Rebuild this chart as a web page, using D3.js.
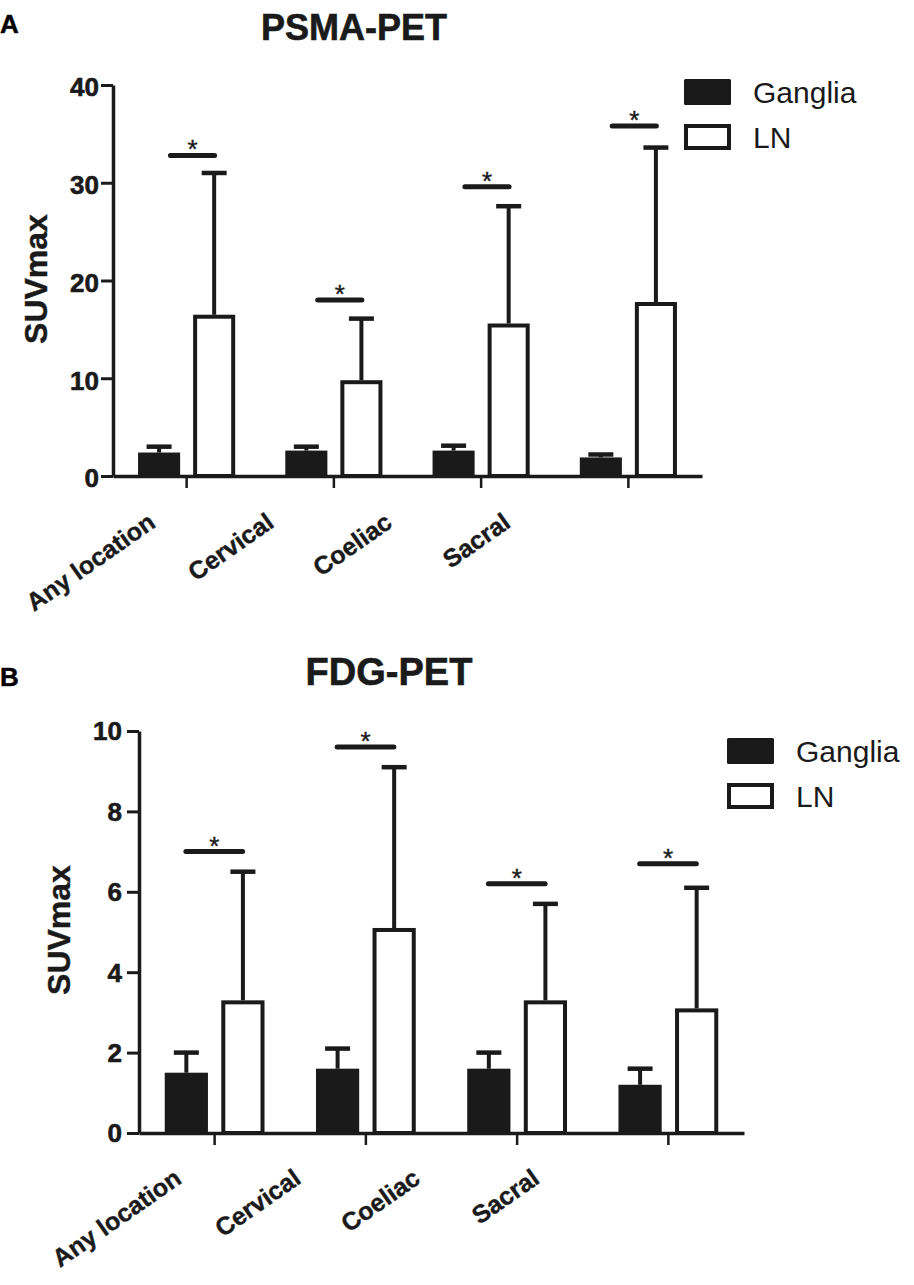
<!DOCTYPE html>
<html>
<head>
<meta charset="utf-8">
<script src="https://cdn.jsdelivr.net/npm/d3@7/dist/d3.min.js"></script>
<style>
  html, body { margin: 0; padding: 0; background: #fff; }
  svg { display: block; font-family: "Liberation Sans", Arial, Helvetica, sans-serif; }
</style>
</head>
<body>
<svg id="chart" width="914" height="1285"></svg>
<script>
// ---------- DATA ----------
const categories = ["Any location", "Cervical", "Coeliac", "Sacral"];
const seriesNames = ["Ganglia", "LN"];

// PSMA-PET (panel A)
const psmaGangliaMean = [2.4, 2.6, 2.6, 1.9];
const psmaGangliaErr  = [3.0, 3.0, 3.1, 2.2];
const psmaLNMean      = [16.5, 9.8, 15.6, 17.8];
const psmaLNErr       = [31.0, 16.1, 27.6, 33.6];
const psmaSig         = [32.8, 18.0, 29.6, 35.8];
const psmaTicks       = [0, 10, 20, 30, 40];

// FDG-PET (panel B)
const fdgGangliaMean = [1.5, 1.6, 1.6, 1.2];
const fdgGangliaErr  = [2.0, 2.1, 2.0, 1.6];
const fdgLNMean      = [3.3, 5.1, 3.3, 3.1];
const fdgLNErr       = [6.5, 9.1, 5.7, 6.1];
const fdgSig         = [7.0, 9.6, 6.2, 6.7];
const fdgTicks       = [0, 2, 4, 6, 8, 10];

// ---------- LAYOUT ----------
const INK = "#1a1a1a";
const svg = d3.select("#chart");

const panels = [
  {
    letter: "A", letterY: 33,
    title: "PSMA-PET", titleX: 354, titleY: 40, titleSize: 36,
    yMax: 40, ticks: psmaTicks, yTop: 85, yBottom: 476,
    xLeft: 113, xRight: 702, tickPad: 2, tickDy: "0.42em",
    labelLeft: 157, labelRight: 512, labelDrop: 50,
    sigFrom: 0.39, sigTo: 0.69,
    axisLabelX: 47, axisLabelY: 279,
    legendX: 684, legendY: 79,
    g: psmaGangliaMean, ge: psmaGangliaErr, l: psmaLNMean, le: psmaLNErr, sig: psmaSig
  },
  {
    letter: "B", letterY: 686,
    title: "FDG-PET", titleX: 389, titleY: 685, titleSize: 38,
    yMax: 10, ticks: fdgTicks, yTop: 731, yBottom: 1133,
    xLeft: 139, xRight: 744, tickPad: 5, tickDy: "0.34em",
    labelLeft: 183, labelRight: 541, labelDrop: 49,
    sigFrom: 0.31, sigTo: 0.685,
    axisLabelX: 70, axisLabelY: 930,
    legendX: 727, legendY: 738,
    g: fdgGangliaMean, ge: fdgGangliaErr, l: fdgLNMean, le: fdgLNErr, sig: fdgSig
  }
];

function heavy(sel, w) {
  return sel.attr("stroke", INK).attr("stroke-width", w).attr("paint-order", "stroke");
}

panels.forEach(p => {
  const g = svg.append("g");

  const y = d3.scaleLinear().domain([0, p.yMax]).range([p.yBottom, p.yTop]);
  const x = d3.scaleBand().domain(categories).range([p.xLeft, p.xRight]).padding(0);
  const xs = d3.scaleBand().domain(seriesNames).range([0, x.bandwidth()])
    .paddingInner(0.236).paddingOuter(0.455);
  const labelX = d3.scalePoint().domain(categories).range([p.labelLeft, p.labelRight]);

  const rows = categories.map((c, i) => ({
    cat: c,
    vals: [
      { s: "Ganglia", mean: p.g[i], err: p.ge[i] },
      { s: "LN", mean: p.l[i], err: p.le[i] }
    ],
    sig: p.sig[i]
  }));

  // panel letter
  heavy(g.append("text").attr("x", 0).attr("y", p.letterY)
    .attr("font-size", 26).attr("font-weight", "bold").attr("fill", "#000")
    .text(p.letter), 0.5);

  // title
  heavy(g.append("text").attr("x", p.titleX).attr("y", p.titleY)
    .attr("text-anchor", "middle").attr("font-size", p.titleSize)
    .attr("font-weight", "bold").attr("fill", INK).text(p.title), 0.6);

  // y axis label
  heavy(g.append("text")
    .attr("transform", `translate(${p.axisLabelX},${p.axisLabelY}) rotate(-90)`)
    .attr("text-anchor", "middle").attr("font-size", 32).attr("font-weight", "bold")
    .attr("fill", INK).text("SUVmax"), 0.4);

  // error bars (drawn first, bars over them)
  rows.forEach(r => {
    r.vals.forEach(v => {
      const cx = x(r.cat) + xs(v.s) + xs.bandwidth() / 2;
      g.append("line")
        .attr("x1", cx).attr("x2", cx)
        .attr("y1", y(v.mean)).attr("y2", y(v.err))
        .attr("stroke", INK).attr("stroke-width", 4);
      g.append("line")
        .attr("x1", cx - 12.5).attr("x2", cx + 12.5)
        .attr("y1", y(v.err)).attr("y2", y(v.err))
        .attr("stroke", INK).attr("stroke-width", 4.5);
    });
  });

  // bars
  rows.forEach(r => {
    r.vals.forEach(v => {
      const bx = x(r.cat) + xs(v.s);
      if (v.s === "Ganglia") {
        g.append("rect")
          .attr("x", bx).attr("y", y(v.mean))
          .attr("width", xs.bandwidth()).attr("height", y(0) - y(v.mean))
          .attr("fill", INK);
      } else {
        g.append("rect")
          .attr("x", bx + 2).attr("y", y(v.mean) + 2)
          .attr("width", xs.bandwidth() - 4).attr("height", y(0) - y(v.mean) - 2)
          .attr("fill", "#fff").attr("stroke", INK).attr("stroke-width", 4);
      }
    });
  });

  // significance lines + asterisks
  rows.forEach(r => {
    const x1 = x(r.cat) + x.bandwidth() * p.sigFrom;
    const x2 = x(r.cat) + x.bandwidth() * p.sigTo;
    g.append("line")
      .attr("x1", x1).attr("x2", x2)
      .attr("y1", y(r.sig)).attr("y2", y(r.sig))
      .attr("stroke", INK).attr("stroke-width", 5).attr("stroke-linecap", "round");
    heavy(g.append("text")
      .attr("x", (x1 + x2) / 2).attr("y", y(r.sig) + 3)
      .attr("text-anchor", "middle").attr("font-size", 26).attr("fill", INK)
      .text("*"), 0.4);
  });

  // y axis
  const yAxis = g.append("g")
    .attr("transform", `translate(${p.xLeft},0)`)
    .call(d3.axisLeft(y).tickValues(p.ticks).tickSize(12).tickSizeOuter(0).tickPadding(p.tickPad));
  yAxis.select(".domain").attr("stroke", INK).attr("stroke-width", 3.5);
  yAxis.selectAll(".tick line").attr("stroke", INK).attr("stroke-width", 3);
  heavy(yAxis.selectAll(".tick text")
    .attr("font-size", 26).attr("font-weight", "bold").attr("fill", INK)
    .attr("font-family", "'Liberation Sans', Arial, sans-serif")
    .attr("dy", p.tickDy), 0.6);

  // x axis
  const xAxis = g.append("g")
    .attr("transform", `translate(0,${p.yBottom})`)
    .call(d3.axisBottom(x).tickSize(12).tickSizeOuter(0).tickFormat(""));
  xAxis.select(".domain").attr("stroke", INK).attr("stroke-width", 3.5);
  xAxis.selectAll(".tick line").attr("stroke", INK).attr("stroke-width", 2.5);

  // x category labels (rotated)
  heavy(g.selectAll(".xlab").data(categories).enter().append("text")
    .attr("class", "xlab")
    .attr("transform", d => `translate(${labelX(d)},${p.yBottom + p.labelDrop}) rotate(-35)`)
    .attr("text-anchor", "end").attr("font-size", 25).attr("font-weight", "bold")
    .attr("fill", INK).text(d => d), 0.4);

  // legend
  const lg = g.append("g").attr("transform", `translate(${p.legendX},${p.legendY})`);
  seriesNames.forEach((s, i) => {
    const oy = i * 45;
    if (s === "Ganglia") {
      lg.append("rect").attr("x", 0).attr("y", oy).attr("width", 47).attr("height", 26)
        .attr("rx", 1.5).attr("fill", INK);
    } else {
      lg.append("rect").attr("x", 2).attr("y", oy + 2).attr("width", 43).attr("height", 22)
        .attr("fill", "#fff").attr("stroke", INK).attr("stroke-width", 4);
    }
    lg.append("text").attr("x", 69).attr("y", oy + 24)
      .attr("font-size", 30).attr("fill", INK).text(s);
  });
});
</script>
</body>
</html>
